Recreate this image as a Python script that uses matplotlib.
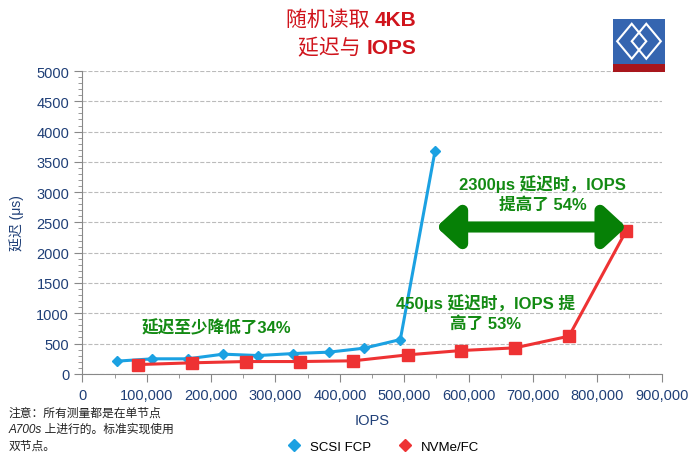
import matplotlib
matplotlib.use("Agg")
import matplotlib.pyplot as plt
from matplotlib.lines import Line2D
from matplotlib.patches import Rectangle, Polygon
from matplotlib.ticker import MultipleLocator, FuncFormatter

plt.rcParams['font.family'] = ['Liberation Sans', 'Noto Sans CJK SC', 'DejaVu Sans']

# SCSI FCP (IOPS, latency us)
scsi_iops = [54500, 109000, 164000, 219000, 273000, 328000, 383000, 438000, 494000, 548000]
scsi_lat = [210, 248, 248, 325, 302, 335, 358, 424, 566, 3685]

# NVMe/FC
nvme_iops = [86000, 171000, 254000, 338000, 421000, 506000, 589000, 672000, 756000, 845000]
nvme_lat = [153, 182, 203, 203, 215, 314, 385, 429, 622, 2365]

series_names = ['SCSI FCP', 'NVMe/FC']
blue = '#1BA1E2'
red = '#EE3233'
green = '#138A13'
navy = '#1F3F77'
title_red = '#D0141C'

fig = plt.figure(figsize=(6.93, 4.56), dpi=100)
ax = fig.add_axes([0.1188, 0.178, 0.836, 0.664])

ax.plot(scsi_iops, scsi_lat, color=blue, lw=2.2, marker='D', ms=5.5, zorder=3)
ax.plot(nvme_iops, nvme_lat, color=red, lw=2.2, marker='s', ms=8, zorder=3)

ax.set_xlim(0, 900000)
ax.set_ylim(0, 5000)
ax.xaxis.set_major_locator(MultipleLocator(100000))
ax.xaxis.set_minor_locator(MultipleLocator(50000))
ax.yaxis.set_major_locator(MultipleLocator(500))
ax.yaxis.set_minor_locator(MultipleLocator(100))
ax.xaxis.set_major_formatter(FuncFormatter(lambda v, p: '{:,}'.format(int(v))))
ax.tick_params(axis='both', which='major', colors='#888888', labelcolor=navy, labelsize=10.5, length=6)
ax.tick_params(axis='both', which='minor', colors='#888888', length=3)
ax.tick_params(axis='x', pad=4)
for s in ['top', 'right']:
    ax.spines[s].set_visible(False)
for s in ['left', 'bottom']:
    ax.spines[s].set_color('#888888')
ax.grid(axis='y', which='major', ls='--', color='#BBBBBB', lw=0.8)
ax.set_axisbelow(True)

ax.set_ylabel('延迟 (μs)', color=navy, fontsize=10)
ax.yaxis.set_label_coords(-0.1, 0.5)
ax.set_xlabel('IOPS', color=navy, fontsize=10.5, labelpad=8)

# annotations
ax.text(209000, 775, '延迟至少降低了34%', color=green, fontsize=12, fontweight='bold',
        ha='center', va='center')
ax.text(627000, 1020, '450μs 延迟时，IOPS 提\n高了 53%', color=green, fontsize=12,
        fontweight='bold', ha='center', va='center', linespacing=1.3)
ax.text(715000, 2990, '2300μs 延迟时，IOPS\n提高了 54%', color=green, fontsize=12,
        fontweight='bold', ha='center', va='center', linespacing=1.3)
ax.annotate('', xy=(550000, 2425), xytext=(845000, 2425),
            arrowprops=dict(arrowstyle='<|-|>,head_length=1.3,head_width=1.2',
                            color='#068006', lw=8, shrinkA=0, shrinkB=0), zorder=4)

# title
t1 = fig.text(0.412, 0.955, '随机读取 ', color=title_red, fontsize=15, va='center', ha='left')
ax.annotate('4KB', xy=(1, 0), xycoords=t1, va='bottom', ha='left', color=title_red,
            fontsize=15, fontweight='bold')
t2 = fig.text(0.43, 0.895, '延迟与 ', color=title_red, fontsize=15, va='center', ha='left')
ax.annotate('IOPS', xy=(1, 0), xycoords=t2, va='bottom', ha='left', color=title_red,
            fontsize=15, fontweight='bold')

# logo
lx, ly, lw_, lh = 613 / 693, 1 - 73 / 456, 52 / 693, 53 / 456
fig.patches.append(Rectangle((lx, ly + lh * 0.16), lw_, lh * 0.84, transform=fig.transFigure,
                             facecolor='#3565B0', edgecolor='none'))
fig.patches.append(Rectangle((lx, ly), lw_, lh * 0.16, transform=fig.transFigure,
                             facecolor='#A8161C', edgecolor='none'))
cy = ly + lh * 0.58
dw, dh = lw_ * 0.28, lh * 0.33
for cx in [lx + lw_ * 0.36, lx + lw_ * 0.64]:
    fig.patches.append(Polygon([(cx - dw, cy), (cx, cy + dh), (cx + dw, cy), (cx, cy - dh)],
                               closed=True, transform=fig.transFigure, facecolor='none',
                               edgecolor='white', lw=1.5))

# legend
handles = [Line2D([], [], color=blue, marker='D', ls='none', ms=6.5),
           Line2D([], [], color=red, marker='D', ls='none', ms=6.5)]
fig.legend(handles, series_names, loc='center', bbox_to_anchor=(0.548, 0.018), ncol=2,
           frameon=False, fontsize=9.5, handletextpad=0.2, columnspacing=1.6)

# note
fig.text(0.012, 0.107, '注意：所有测量都是在单节点\nA700s 上进行的。标准实现使用\n双节点。',
         fontsize=8.5, style='italic', color='#222222', va='top', ha='left', linespacing=1.5)

fig.savefig('out.png', dpi=100)
